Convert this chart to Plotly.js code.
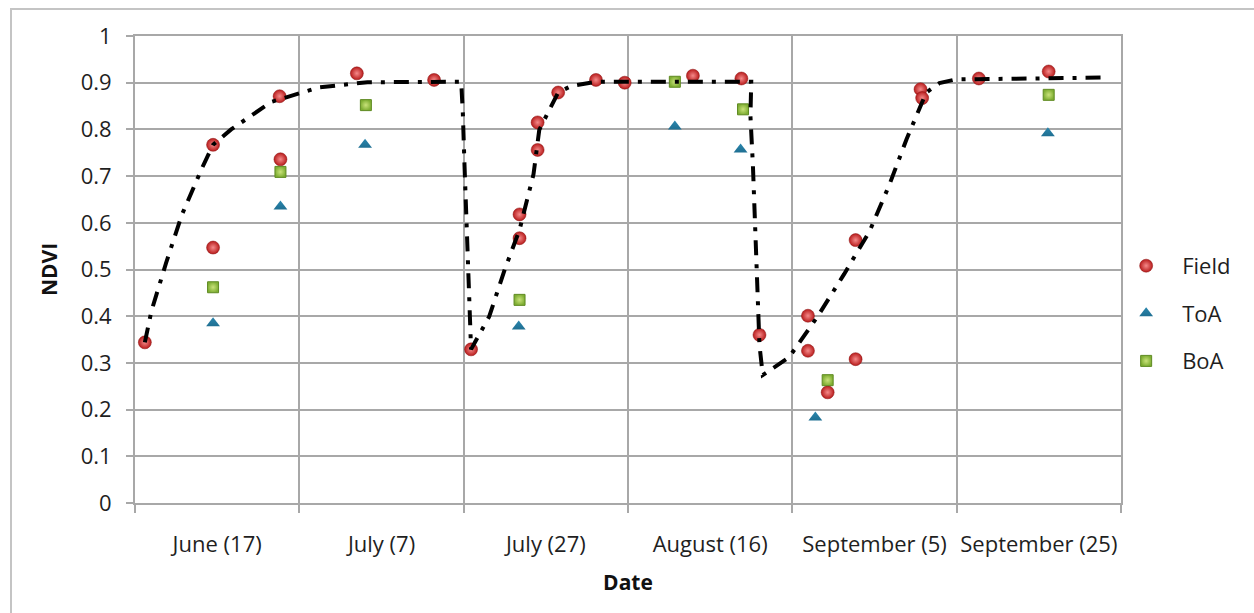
<!DOCTYPE html>
<html>
<head>
<meta charset="utf-8">
<script src="https://cdn.plot.ly/plotly-3.0.1.min.js"></script>
<style>
  html, body { margin: 0; padding: 0; background: #fff; }
  #wrap { position: relative; width: 1254px; height: 613px; overflow: hidden; }
  #chart { position: absolute; left: 0; top: 0; width: 1254px; height: 613px; }
  #frame { position: absolute; left: 10px; top: 8px; width: 1400px; height: 800px;
           border: 2px solid #c4c4c4; pointer-events: none; }
</style>
</head>
<body>
<div id="wrap">
  <div id="chart"></div>
  <div id="frame"></div>
</div>
<script>
// Tick labels (centres of 20-day periods) and period boundaries (days after June 7)
const xTickVals = [10, 30, 50, 70, 90, 110];
const xTickText = ['June (17)', 'July (7)', 'July (27)', 'August (16)', 'September (5)', 'September (25)'];
const xGridVals = [0, 20, 40, 60, 80, 100, 120];

// Field NDVI
const fieldDay  = [1.2, 9.5, 9.5, 17.6, 17.7, 27.0, 36.4, 40.9, 46.8, 46.8, 49.0, 49.0, 51.5, 56.1, 59.6, 67.9, 73.8, 76.0, 81.9, 81.9, 84.3, 87.7, 87.7, 95.6, 95.8, 102.7, 111.2];
const fieldNdvi = [0.344, 0.767, 0.547, 0.871, 0.736, 0.920, 0.906, 0.329, 0.567, 0.618, 0.756, 0.815, 0.879, 0.906, 0.900, 0.915, 0.909, 0.360, 0.401, 0.326, 0.237, 0.563, 0.308, 0.886, 0.867, 0.909, 0.924];

// Top-of-atmosphere NDVI
const toaDay  = [9.5, 17.7, 28.0, 46.7, 65.7, 73.7, 82.8, 111.1];
const toaNdvi = [0.385, 0.635, 0.767, 0.378, 0.806, 0.757, 0.183, 0.792];

// Bottom-of-atmosphere NDVI
const boaDay  = [9.5, 17.7, 28.1, 46.8, 65.7, 74.0, 84.3, 111.2];
const boaNdvi = [0.462, 0.709, 0.852, 0.435, 0.902, 0.843, 0.263, 0.874];

// Fitted seasonal curve
const curveDay  = [1.2, 2.0, 3.8, 5.7, 8.1, 9.5, 11.7, 16.6, 22.4, 28.3, 39.7, 39.9, 40.1, 40.3, 40.5, 40.7, 40.9,
                   43.1, 45.0, 46.8, 48.5, 49.2, 51.5, 53.1, 56.1, 75.0, 74.9, 75.2, 75.4, 75.7, 75.9, 76.0, 76.4,
                   77.6, 79.6, 83.1, 86.3, 89.4, 91.8, 93.9, 96.3, 97.9, 99.9, 118.1];
const curveNdvi = [0.344, 0.411, 0.515, 0.617, 0.715, 0.767, 0.800, 0.859, 0.890, 0.901, 0.902, 0.834, 0.724, 0.621, 0.514, 0.407, 0.329,
                   0.399, 0.500, 0.585, 0.704, 0.799, 0.879, 0.893, 0.902, 0.902, 0.829, 0.724, 0.620, 0.510, 0.401, 0.338, 0.274,
                   0.288, 0.312, 0.400, 0.490, 0.582, 0.681, 0.779, 0.879, 0.899, 0.907, 0.911];

const FONT = '"Open Sans", "Liberation Sans", sans-serif';
const TXT = '#1f1f1f';
const GRID = '#a8a8a8';

const traces = [
  {
    x: fieldDay, y: fieldNdvi, type: 'scatter', mode: 'markers', name: 'Field',
    legendgroup: 'g1',
    marker: { symbol: 'circle', size: 13, color: '#b81c1c',
              gradient: { type: 'radial', color: '#f58a8a' },
              line: { width: 0.5, color: '#8a1010' } }
  },
  {
    x: toaDay, y: toaNdvi, type: 'scatter', mode: 'markers', name: 'ToA',
    legendgroup: 'g2',
    marker: { symbol: 'triangle-up', size: 12, color: '#2a86ad',
              gradient: { type: 'vertical', color: '#1f6f92' },
              line: { width: 0 } }
  },
  {
    x: boaDay, y: boaNdvi, type: 'scatter', mode: 'markers', name: 'BoA',
    legendgroup: 'g3',
    marker: { symbol: 'square', size: 11, color: '#7fae33',
              gradient: { type: 'radial', color: '#c9e27a' },
              line: { width: 1, color: '#5f8a22' } }
  },
  {
    x: curveDay, y: curveNdvi, type: 'scatter', mode: 'lines', name: 'Fit',
    showlegend: false, hoverinfo: 'skip',
    line: { color: '#000000', width: 4, dash: '15px,9px,4px,9px' }
  }
];

const layout = {
  width: 1254, height: 613,
  margin: { l: 135, r: 133, t: 36, b: 110 },
  paper_bgcolor: '#ffffff', plot_bgcolor: '#ffffff',
  font: { family: FONT, size: 22, color: TXT },
  showlegend: true,
  legend: {
    x: 0.989, xanchor: 'left', y: 0.406, yanchor: 'middle',
    font: { family: FONT, size: 22, color: TXT },
    itemwidth: 62,
    tracegroupgap: 16, bgcolor: 'rgba(0,0,0,0)', borderwidth: 0
  },
  xaxis: {
    range: [0, 120], fixedrange: true,
    tickmode: 'array', tickvals: xTickVals, ticktext: xTickText,
    showgrid: false, zeroline: false, ticks: '',
    ticklabelstandoff: 21,
    tickfont: { family: FONT, size: 22, color: TXT },
    showline: true, linecolor: GRID, linewidth: 2, mirror: true,
    minor: { tickmode: 'array', tickvals: xGridVals, showgrid: true,
             gridcolor: GRID, gridwidth: 2, ticks: 'outside', ticklen: 8,
             tickcolor: GRID, tickwidth: 2 },
    title: { text: '<b>Date</b>', font: { family: FONT, size: 21, color: '#111' }, standoff: 18 }
  },
  yaxis: {
    range: [0, 1], fixedrange: true,
    tickmode: 'linear', tick0: 0, dtick: 0.1,
    showgrid: true, gridcolor: GRID, gridwidth: 2, zeroline: false,
    ticks: 'outside', ticklen: 7, tickcolor: GRID, tickwidth: 2,
    ticklabelstandoff: 10,
    tickfont: { family: FONT, size: 22, color: TXT },
    showline: true, linecolor: GRID, linewidth: 2, mirror: true,
    title: { text: '<b>NDVI</b>', font: { family: FONT, size: 21, color: '#111' }, standoff: 17 }
  }
};

Plotly.newPlot('chart', traces, layout, { displayModeBar: false, staticPlot: true });
</script>
</body>
</html>
